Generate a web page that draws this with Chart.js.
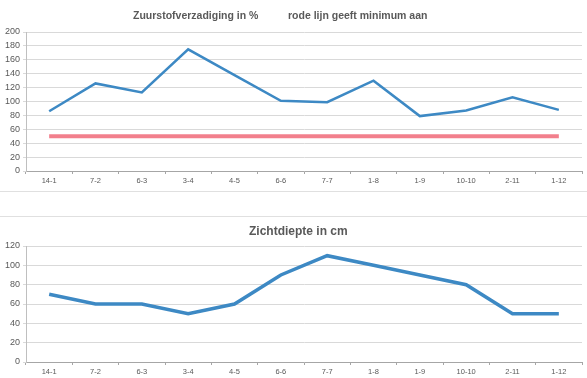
<!DOCTYPE html>
<html>
<head>
<meta charset="utf-8">
<script src="https://cdn.jsdelivr.net/npm/chart.js@4.4.1/dist/chart.umd.min.js"></script>
<style>
  html, body { margin: 0; padding: 0; background: #ffffff; }
  body { width: 587px; height: 378px; position: relative; overflow: hidden; font-family: "Liberation Sans", Arial, sans-serif; }
  #top { position: absolute; left: 0; top: 0; width: 587px; height: 191px; border-bottom: 1px solid #e0e0e0; }
  #bot { position: absolute; left: 0; top: 216px; width: 587px; height: 162px; border-top: 1px solid #e0e0e0; }
  canvas { display: block; }
</style>
</head>
<body>
<div id="top"><canvas id="c1" width="587" height="191"></canvas></div>
<div id="bot"><canvas id="c2" width="587" height="161"></canvas></div>
<script>
// ---- data ----
const categories = ["14-1", "7-2", "6-3", "3-4", "4-5", "6-6", "7-7", "1-8", "1-9", "10-10", "2-11", "1-12"];
const oxygenSaturation = [86, 126, 113, 175, 138, 101, 99, 130, 79, 87, 106, 88];
const oxygenMinimum = [50, 50, 50, 50, 50, 50, 50, 50, 50, 50, 50, 50];
const visibilityDepth = [70, 60, 60, 50, 60, 90, 110, 100, 90, 80, 50, 50];
const topTitles = ["Zuurstofverzadiging in %", "rode lijn geeft minimum aan"];
const bottomTitles = ["Zichtdiepte in cm"];
const topYTicks = [0, 20, 40, 60, 80, 100, 120, 140, 160, 180, 200];
const bottomYTicks = [0, 20, 40, 60, 80, 100, 120];

const textColor = "#595959";
const gridColor = "#d9d9d9";
const axisColor = "#a6a6a6";

function titlePlugin(items) {
  return {
    id: "customTitles",
    afterDraw(chart) {
      const ctx = chart.ctx;
      ctx.save();
      ctx.fillStyle = textColor;
      ctx.textBaseline = "alphabetic";
      ctx.textAlign = "left";
      items.forEach(it => {
        ctx.font = "bold " + it.size + "px 'Liberation Sans', Arial, sans-serif";
        ctx.fillText(it.text, it.x, it.y);
      });
      ctx.restore();
    }
  };
}

function makeOptions(yMax, yTicks, xHeight, padTop) {
  return {
    responsive: false,
    animation: false,
    layout: { padding: { top: padTop, right: 5, left: 0, bottom: 0 } },
    plugins: { legend: { display: false }, title: { display: false }, tooltip: { enabled: false } },
    elements: { point: { radius: 0 }, line: { tension: 0 } },
    scales: {
      x: {
        type: "category",
        offset: true,
        grid: { offset: true, drawOnChartArea: false, drawTicks: true, tickLength: 3, color: axisColor },
        border: { color: axisColor, width: 1 },
        ticks: { color: textColor, font: { size: 7.5, family: "'Liberation Sans', Arial, sans-serif" }, padding: 2, maxRotation: 0, autoSkip: false },
        afterFit(scale) { scale.height = xHeight; }
      },
      y: {
        min: 0,
        max: yMax,
        afterBuildTicks(scale) { scale.ticks = yTicks.map(v => ({ value: v })); },
        grid: { color: gridColor, drawTicks: true, tickLength: 3 },
        border: { color: "#bfbfbf", width: 1 },
        ticks: { color: textColor, font: { size: 9, family: "'Liberation Sans', Arial, sans-serif" }, padding: 3 },
        afterFit(scale) { scale.width = 26; }
      }
    }
  };
}

new Chart(document.getElementById("c1"), {
  type: "line",
  data: {
    labels: categories,
    datasets: [
      { label: "Zuurstofverzadiging", data: oxygenSaturation, borderColor: "#3d89c4", borderWidth: 2.5, fill: false },
      { label: "Minimum", data: oxygenMinimum, borderColor: "#f27f8c", borderWidth: 4, fill: false }
    ]
  },
  options: makeOptions(200, topYTicks, 20, 32),
  plugins: [titlePlugin([
    { text: topTitles[0], x: 133, y: 19, size: 10.5 },
    { text: topTitles[1], x: 288, y: 19, size: 10.5 }
  ])]
});

new Chart(document.getElementById("c2"), {
  type: "line",
  data: {
    labels: categories,
    datasets: [
      { label: "Zichtdiepte", data: visibilityDepth, borderColor: "#3d89c4", borderWidth: 3.5, fill: false }
    ]
  },
  options: makeOptions(120, bottomYTicks, 16, 29),
  plugins: [titlePlugin([
    { text: bottomTitles[0], x: 249, y: 18, size: 12 }
  ])]
});
</script>
</body>
</html>
